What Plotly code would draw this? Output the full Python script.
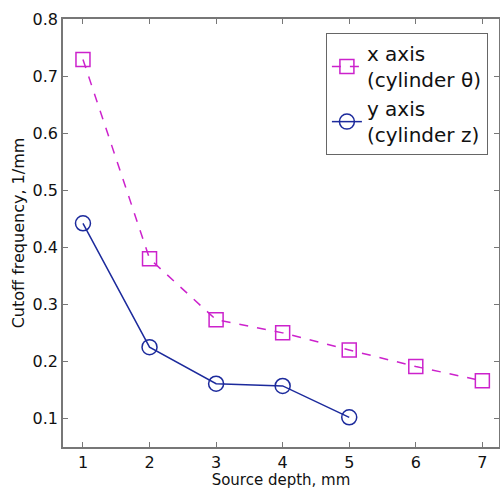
import plotly.graph_objects as go

depth_x = [1, 2, 3, 4, 5, 6, 7]
cutoff_x = [0.729, 0.380, 0.273, 0.250, 0.220, 0.191, 0.166]
depth_y = [1, 2, 3, 4, 5]
cutoff_y = [0.442, 0.225, 0.161, 0.157, 0.102]
x_ticks = [1, 2, 3, 4, 5, 6, 7]
y_ticks = [0.1, 0.2, 0.3, 0.4, 0.5, 0.6, 0.7, 0.8]

font = "DejaVu Sans"
fig = go.Figure()
fig.add_trace(go.Scatter(
    x=depth_x, y=cutoff_x, mode="lines+markers",
    name="x axis<br>(cylinder θ)",
    line=dict(color="#cc22cc", width=1.5, dash="dash"),
    marker=dict(symbol="square-open", size=14, color="#cc22cc", line=dict(width=1.5)),
))
fig.add_trace(go.Scatter(
    x=depth_y, y=cutoff_y, mode="lines+markers",
    name="y axis<br>(cylinder z)",
    line=dict(color="#1c2a9c", width=1.5),
    marker=dict(symbol="circle-open", size=15, color="#1c2a9c", line=dict(width=1.5)),
))

axis_common = dict(
    showline=True, linecolor="#777777", linewidth=1.5, mirror="ticks",
    ticks="inside", ticklen=5, tickcolor="#777777", showgrid=False, zeroline=False,
    tickfont=dict(family=font, size=16, color="#111111"), automargin=False,
)
fig.update_xaxes(range=[0.7, 7.25], tickvals=x_ticks,
                 title=dict(text="Source depth, mm", font=dict(family=font, size=15, color="#111111"), standoff=4),
                 **axis_common)
fig.update_yaxes(range=[0.05, 0.8], tickvals=y_ticks, tickformat=".1f",
                 title=dict(text="Cutoff frequency, 1/mm", font=dict(family=font, size=16, color="#111111"), standoff=4),
                 **axis_common)
fig.update_layout(
    width=500, height=489,
    margin=dict(l=63, r=1, t=19, b=42),
    plot_bgcolor="white", paper_bgcolor="white",
    legend=dict(x=0.603, y=0.967, xanchor="left", yanchor="top",
                bordercolor="#666666", borderwidth=1, bgcolor="white",
                font=dict(family=font, size=20, color="#111111"),
                itemwidth=30, tracegroupgap=2),
)
fig.write_html("out.html", config={"displayModeBar": False},
               post_script="document.body.style.margin='0';document.body.style.overflow='hidden';")
